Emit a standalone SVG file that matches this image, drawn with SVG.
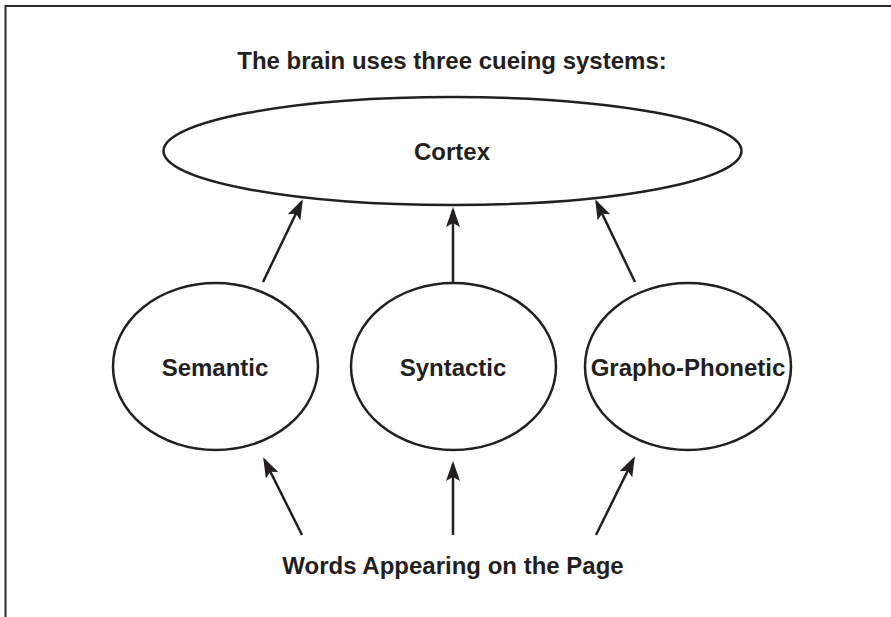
<svg xmlns="http://www.w3.org/2000/svg" width="891" height="617" viewBox="0 0 891 617">
<style>
.node{fill:#ffffff;stroke:#231f20;stroke-width:2.5}
.lbl{font-family:"Liberation Sans",Arial,Helvetica,sans-serif;font-weight:bold;font-size:24px;fill:#231f20;text-anchor:middle}
.conn{stroke:#231f20;stroke-width:2.5;fill:none;marker-end:url(#arr)}
.frame{stroke:#2a2a2a;stroke-width:2;fill:none}
</style>
<defs>
<marker id="arr" viewBox="0 0 20 14" refX="17" refY="7" markerWidth="20" markerHeight="14" markerUnits="userSpaceOnUse" orient="auto">
<path d="M0,0 L20,7 L0,14 L4,7 z" fill="#231f20"/>
</marker>
</defs>
<rect width="891" height="617" fill="#ffffff"/>
<path class="frame" d="M5.5,617 V6 H891"/>
<text class="lbl" x="452" y="69">The brain uses three cueing systems:</text>
<g id="cortex">
<ellipse class="node" cx="452.5" cy="151" rx="289" ry="54"/>
<text class="lbl" x="452" y="160">Cortex</text>
</g>
<g id="semantic">
<ellipse class="node" cx="215.5" cy="366.5" rx="102.5" ry="83.5"/>
<text class="lbl" x="215" y="376">Semantic</text>
</g>
<g id="syntactic">
<ellipse class="node" cx="453.5" cy="366.5" rx="102.5" ry="83.5"/>
<text class="lbl" x="453" y="376">Syntactic</text>
</g>
<g id="grapho">
<ellipse class="node" cx="688" cy="366.5" rx="103" ry="83.5"/>
<text class="lbl" x="688" y="376">Grapho-Phonetic</text>
</g>
<text class="lbl" x="453" y="574">Words Appearing on the Page</text>
<g id="connectors">
<line class="conn" x1="263" y1="282" x2="301.5" y2="202"/>
<line class="conn" x1="453" y1="282" x2="453" y2="210"/>
<line class="conn" x1="635" y1="282" x2="596.5" y2="202"/>
<line class="conn" x1="302" y1="535" x2="264.5" y2="460"/>
<line class="conn" x1="453" y1="535" x2="453" y2="464"/>
<line class="conn" x1="596" y1="535" x2="633.5" y2="459"/>
</g>
</svg>
